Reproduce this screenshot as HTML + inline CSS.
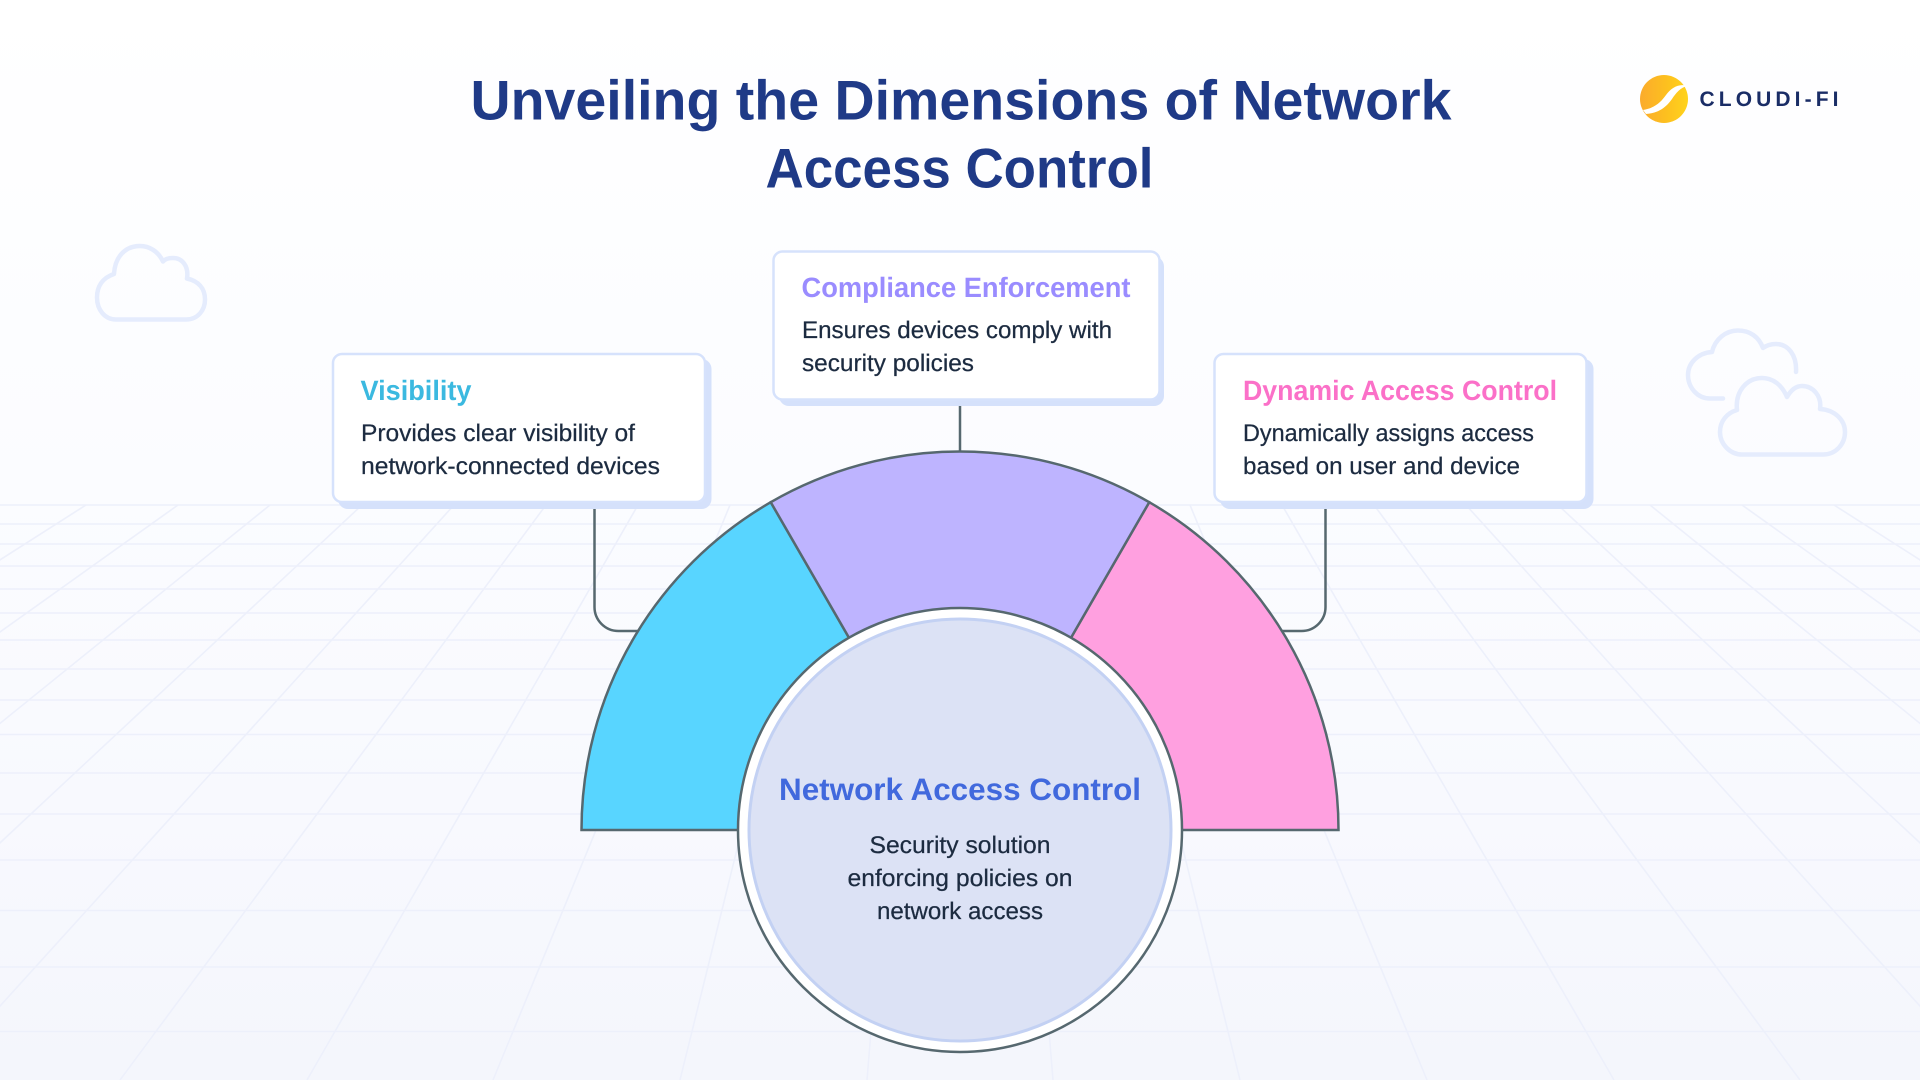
<!DOCTYPE html>
<html lang="en">
<head>
<meta charset="utf-8">
<title>Unveiling the Dimensions of Network Access Control</title>
<style>
html,body{margin:0;padding:0;width:1920px;height:1080px;overflow:hidden;background:#fff}
svg{display:block}
text{font-family:"Liberation Sans",sans-serif;text-rendering:geometricPrecision}
.t{font-weight:700}
.b{font-size:24px;fill:#1c2b40;stroke:#1c2b40;stroke-width:.25}
</style>
</head>
<body>
<svg xmlns="http://www.w3.org/2000/svg" width="1920" height="1080" viewBox="0 0 1920 1080">
<defs>
<linearGradient id="bg" x1="0" y1="0" x2="0" y2="1">
<stop offset="0" stop-color="#ffffff"/>
<stop offset=".45" stop-color="#fbfcff"/>
<stop offset=".75" stop-color="#f8f9fe"/>
<stop offset="1" stop-color="#f4f6fc"/>
</linearGradient>
<linearGradient id="lg" x1="0" y1="0" x2="1" y2="0">
<stop offset="0" stop-color="#fbab2c"/>
<stop offset=".55" stop-color="#fdc01f"/>
<stop offset="1" stop-color="#ffd31c"/>
</linearGradient>
</defs>
<rect width="1920" height="1080" fill="url(#bg)"/>

<!-- perspective grid -->
<g stroke="#edf0fb" stroke-width="1.6" fill="none">
<path d="M0 505H1920M0 524H1920M0 544H1920M0 566H1920M0 589H1920M0 613H1920M0 640H1920M0 669H1920M0 700H1920M0 734.5H1920M0 773H1920M0 814H1920M0 860H1920M0 910.5H1920M0 967H1920M0 1031.5H1920"/>
<path d="M914 505L867 1080M822 505L680 1080M730 505L493 1080M638 505L307 1080M546 505L120 1080M454 505L-67 1080M362 505L-254 1080M270 505L-441 1080M178 505L-628 1080M86 505L-815 1080"/>
<path d="M1006 505L1053 1080M1098 505L1240 1080M1190 505L1427 1080M1282 505L1614 1080M1374 505L1800 1080M1466 505L1987 1080M1558 505L2174 1080M1650 505L2361 1080M1742 505L2548 1080M1834 505L2735 1080"/>
</g>

<!-- clouds -->
<g fill="none" stroke="#e5ecfd" stroke-width="4.5" stroke-linecap="round" stroke-linejoin="round">
<path d="M116 319.5H186C198 319.5 205 310 205 299.5C205 288 198 281 187 278.5C189 266 182 258 173 258C168 258 165 259 163 261.5C158 251 149 246 140 246C125 246 115 257 114 274C102 278 97 287 97 297.5C97 310 105 319.5 116 319.5Z"/>
<path d="M1723 398.5H1710C1697 398.5 1688 387 1688 375C1688 363 1698 353 1712 352C1715 339 1726 330.500 1738 330.500C1750 330.500 1759 337 1763 348C1767 345 1771 344 1776 344C1788 344 1797 355 1796 372"/>
<path d="M1742 454.500H1823C1836 454.500 1845 444 1845 432C1845 420 1835 410 1820 409C1822 396 1813 386 1802 386C1796 386 1791 390 1787 397C1782 385 1773 378 1762 378C1747 378 1735 391 1737 410C1727 413 1720 421 1720 432C1720 444 1730 454.500 1742 454.500Z"/>
</g>

<!-- title -->
<g class="t" font-size="56" fill="#1f3a87" font-weight="700">
<text x="470.500" y="119.5" textLength="981" lengthAdjust="spacingAndGlyphs">Unveiling the Dimensions of Network</text>
<text x="765.5" y="187.5" textLength="388" lengthAdjust="spacingAndGlyphs">Access Control</text>
</g>

<!-- logo -->
<circle cx="1664" cy="99" r="24" fill="url(#lg)"/>
<path d="M1646 114C1660 113 1667 106 1672 99C1676 93 1680 88 1687 86C1679 83 1671 88 1666 95C1661 102 1655 108 1643 110Z" fill="#fff"/>
<text x="1699.500" y="106" font-size="21" font-weight="700" fill="#1a2d66" textLength="139" lengthAdjust="spacing">CLOUDI-FI</text>

<!-- connectors -->
<g fill="none" stroke="#56686f" stroke-width="2.5">
<path d="M594.5 505V607A24 24 0 0 0 618.5 631H640"/>
<path d="M1325.5 505V607A24 24 0 0 1 1301.5 631H1280"/>
<path d="M960 404V452"/>
</g>

<!-- cards -->
<g fill="#d5e1fb">
<rect x="338" y="359" width="373.500" height="150" rx="10"/>
<rect x="779" y="256.500" width="385" height="149.500" rx="10"/>
<rect x="1220" y="359" width="373.500" height="150" rx="10"/>
</g>
<g fill="#ffffff" stroke="#d6e2fc" stroke-width="2.5">
<rect x="333" y="354" width="372" height="148" rx="9"/>
<rect x="773.500" y="251.500" width="386" height="148" rx="9"/>
<rect x="1214.500" y="354" width="372" height="148" rx="9"/>
</g>

<!-- sectors -->
<g stroke="#56686f" stroke-width="2.5" stroke-linejoin="miter">
<path d="M581.5 830A378.5 378.5 0 0 1 770.75 502.2L960 830Z" fill="#58d5ff"/>
<path d="M1338.5 830A378.5 378.5 0 0 0 1149.25 502.2L960 830Z" fill="#ffa0e0"/>
<path d="M770.75 502.2A378.5 378.5 0 0 1 1149.25 502.2L960 830Z" fill="#beb4ff"/>
</g>

<!-- central circle -->
<circle cx="960" cy="830" r="222" fill="#ffffff" stroke="#56686f" stroke-width="2.5"/>
<circle cx="960" cy="830" r="211" fill="#dce2f5" stroke="#c3d1f3" stroke-width="3"/>

<!-- card text -->
<text class="t" x="360.500" y="400" font-size="28" fill="#3bb9e0" textLength="111" lengthAdjust="spacingAndGlyphs">Visibility</text>
<text class="b" x="361" y="441" textLength="274" lengthAdjust="spacingAndGlyphs">Provides clear visibility of</text>
<text class="b" x="361" y="474" textLength="299" lengthAdjust="spacingAndGlyphs">network-connected devices</text>

<text class="t" x="801.500" y="297" font-size="28" fill="#9a8cff" textLength="329" lengthAdjust="spacingAndGlyphs">Compliance Enforcement</text>
<text class="b" x="802" y="338" textLength="310" lengthAdjust="spacingAndGlyphs">Ensures devices comply with</text>
<text class="b" x="802" y="371" textLength="172" lengthAdjust="spacingAndGlyphs">security policies</text>

<text class="t" x="1243" y="400" font-size="28" fill="#fb70c8" textLength="314" lengthAdjust="spacingAndGlyphs">Dynamic Access Control</text>
<text class="b" x="1243" y="441" textLength="291" lengthAdjust="spacingAndGlyphs">Dynamically assigns access</text>
<text class="b" x="1243" y="474" textLength="277" lengthAdjust="spacingAndGlyphs">based on user and device</text>

<text class="t" x="779" y="800" font-size="31" fill="#4169dd" textLength="362" lengthAdjust="spacingAndGlyphs">Network Access Control</text>
<text class="b" x="869.5" y="853" textLength="181" lengthAdjust="spacingAndGlyphs">Security solution</text>
<text class="b" x="847.5" y="886" textLength="225" lengthAdjust="spacingAndGlyphs">enforcing policies on</text>
<text class="b" x="877" y="919" textLength="166" lengthAdjust="spacingAndGlyphs">network access</text>
</svg>
</body>
</html>
